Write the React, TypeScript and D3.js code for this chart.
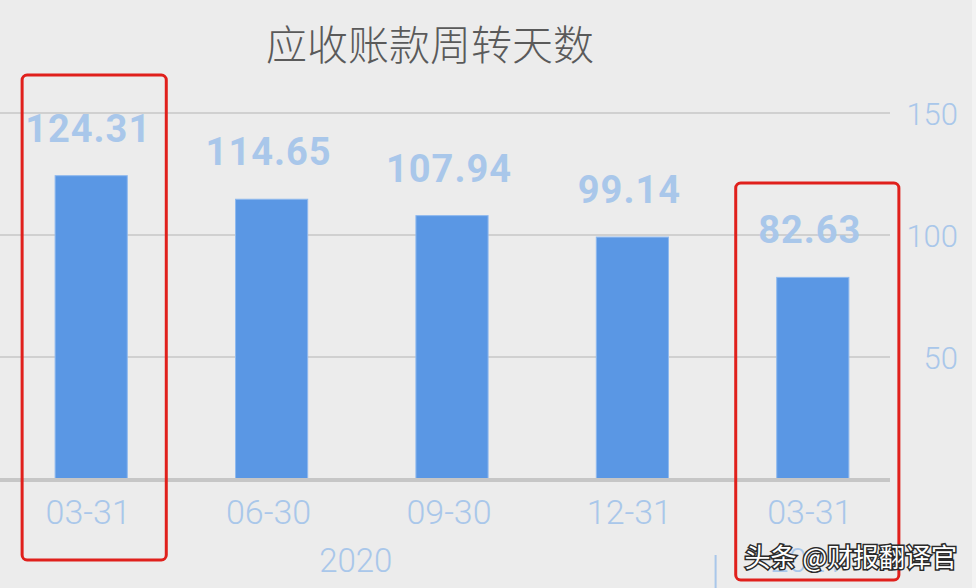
import * as d3 from "d3";
import { useEffect, useRef } from "react";

const title = "应收账款周转天数";
const categories = ["03-31", "06-30", "09-30", "12-31", "03-31"];
const years = ["2020", "2021"];
const yearOfBar = [0, 0, 0, 0, 1];
const values = [124.31, 114.65, 107.94, 99.14, 82.63];
const yTicks = [50, 100, 150];
const highlighted = [0, 4];
const watermark = "头条 @财报翻译官";

const width = 976;
const height = 588;
const blue = "#a9c7ea";

export default function App() {
  const svgRef = useRef<SVGSVGElement | null>(null);

  useEffect(() => {
    if (!svgRef.current) return;
    const svg = d3.select(svgRef.current);
    svg.selectAll("*").remove();

    const x = d3
      .scaleBand<number>()
      .domain(values.map((_v, i) => i))
      .range([1, 903])
      .paddingInner(0.6)
      .paddingOuter(0.3);
    const y = d3.scaleLinear().domain([0, 150]).range([479, 113]);
    const bw = x.bandwidth();

    svg.append("rect").attr("width", width).attr("height", height).attr("fill", "#ececec");
    svg.append("rect").attr("x", 972).attr("width", 4).attr("height", height).attr("fill", "#f3f3f3");

    // title
    svg
      .append("text")
      .attr("x", 430)
      .attr("y", 60)
      .attr("text-anchor", "middle")
      .attr("font-family", "'Noto Sans CJK SC', sans-serif")
      .attr("font-weight", 300)
      .attr("font-size", 41)
      .attr("fill", "#5a5a5a")
      .text(title);

    // gridlines
    svg
      .append("g")
      .selectAll("line")
      .data(yTicks)
      .join("line")
      .attr("x1", 0)
      .attr("x2", 890)
      .attr("y1", (t) => y(t))
      .attr("y2", (t) => y(t))
      .attr("stroke", "#b4b4b4")
      .attr("stroke-width", 1);

    // right axis labels
    svg
      .append("g")
      .selectAll("text")
      .data(yTicks)
      .join("text")
      .attr("x", 958)
      .attr("y", (t) => y(t) + 12)
      .attr("text-anchor", "end")
      .attr("font-family", "Roboto, sans-serif")
      .attr("font-weight", 300)
      .attr("font-size", 31)
      .attr("fill", blue)
      .text((t) => t);

    // bars
    svg
      .append("g")
      .selectAll("rect")
      .data(values)
      .join("rect")
      .attr("x", (_v, i) => x(i) ?? 0)
      .attr("y", (v) => y(v))
      .attr("width", bw)
      .attr("height", (v) => y(0) - y(v))
      .attr("fill", "#5a97e4")
      .attr("stroke", "#8fb9ee")
      .attr("stroke-width", 1);

    // baseline
    svg
      .append("line")
      .attr("x1", 0)
      .attr("x2", 890)
      .attr("y1", y(0) + 1)
      .attr("y2", y(0) + 1)
      .attr("stroke", "#c6c6c6")
      .attr("stroke-width", 4);

    // value labels
    svg
      .append("g")
      .selectAll("text")
      .data(values)
      .join("text")
      .attr("x", (_v, i) => (x(i) ?? 0) + bw / 2 - 3)
      .attr("y", (v) => y(v) - 34)
      .attr("text-anchor", "middle")
      .attr("font-family", "Roboto, sans-serif")
      .attr("font-weight", 700)
      .attr("font-size", 38)
      .attr("letter-spacing", 1)
      .attr("fill", blue)
      .text((v) => v.toFixed(2));

    // category labels
    svg
      .append("g")
      .selectAll("text")
      .data(categories)
      .join("text")
      .attr("x", (_c, i) => (x(i) ?? 0) + bw / 2 - 3)
      .attr("y", 524)
      .attr("text-anchor", "middle")
      .attr("font-family", "Roboto, sans-serif")
      .attr("font-weight", 300)
      .attr("font-size", 34)
      .attr("fill", blue)
      .text((c) => c);

    // year labels
    const yearCenters = years.map((_yr, k) => {
      const idx = yearOfBar.map((yy, i) => (yy === k ? i : -1)).filter((i) => i >= 0);
      const first = (x(idx[0]) ?? 0) + bw / 2;
      const last = (x(idx[idx.length - 1]) ?? 0) + bw / 2;
      return (first + last) / 2;
    });
    svg
      .append("g")
      .selectAll("text")
      .data(years)
      .join("text")
      .attr("x", (_yr, k) => yearCenters[k] - 6)
      .attr("y", 572)
      .attr("text-anchor", "middle")
      .attr("font-family", "Roboto, sans-serif")
      .attr("font-weight", 300)
      .attr("font-size", 33)
      .attr("fill", blue)
      .text((yr) => yr);

    // year separator
    const sepX = (x(3) ?? 0) + bw + (x.step() - bw) / 2 - 7;
    svg
      .append("line")
      .attr("x1", sepX)
      .attr("x2", sepX)
      .attr("y1", 555)
      .attr("y2", height)
      .attr("stroke", blue)
      .attr("stroke-width", 2);

    // highlight boxes
    const boxPads = [
      { left: 33, right: 39, top: 75, bottom: 560 },
      { left: 41, right: 50, top: 183, bottom: 580 },
    ];
    svg
      .append("g")
      .selectAll("rect")
      .data(highlighted)
      .join("rect")
      .attr("x", (i, k) => (x(i) ?? 0) - boxPads[k].left)
      .attr("y", (_i, k) => boxPads[k].top)
      .attr("width", (_i, k) => bw + boxPads[k].left + boxPads[k].right)
      .attr("height", (_i, k) => boxPads[k].bottom - boxPads[k].top)
      .attr("rx", 5)
      .attr("fill", "none")
      .attr("stroke", "#e0201c")
      .attr("stroke-width", 3);

    // watermark
    svg
      .append("text")
      .attr("x", 957)
      .attr("y", 567)
      .attr("text-anchor", "end")
      .attr("font-family", "'Noto Sans CJK SC', sans-serif")
      .attr("font-size", 26)
      .attr("fill", "#ffffff")
      .attr("stroke", "#2a2a2a")
      .attr("stroke-width", 3)
      .attr("paint-order", "stroke")
      .text(watermark);
  }, []);

  return (
    <svg
      ref={svgRef}
      width={width}
      height={height}
      style={{ position: "absolute", left: 0, top: 0 }}
    />
  );
}
